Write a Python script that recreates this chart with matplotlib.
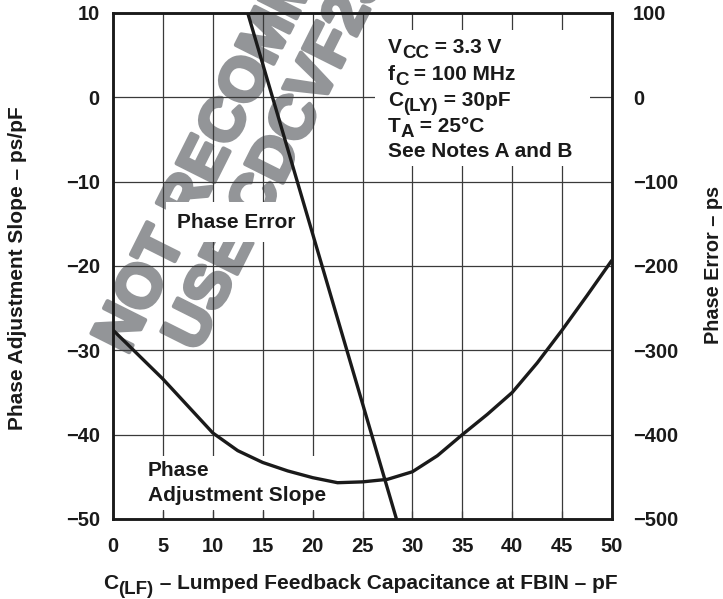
import matplotlib
matplotlib.use("Agg")
import matplotlib.pyplot as plt
import matplotlib.patheffects as pe
from matplotlib.patches import Rectangle

plt.rcParams["font.family"] = ["Liberation Sans", "DejaVu Sans"]
plt.rcParams["font.weight"] = "bold"

# Phase adjustment slope (left axis, ps/pF) vs lumped feedback capacitance (pF)
cap_pf = [0, 2.5, 5, 7.5, 10, 12.5, 15, 17.5, 20, 22.5, 25, 27.5, 30,
          32.5, 35, 37.5, 40, 42.5, 45, 47.5, 50]
slope_ps_pf = [-27.6, -30.5, -33.4, -36.6, -39.8, -41.9, -43.3, -44.3, -45.1,
               -45.7, -45.6, -45.3, -44.4, -42.5, -40.0, -37.6, -35.0, -31.5,
               -27.6, -23.5, -19.3]

# Phase error (right axis, ps) - straight line across the plot
err_cap_pf = [13.5, 28.4]
phase_err_ps = [100, -500]

x_ticks = list(range(0, 51, 5))
left_ticks = list(range(-50, 11, 10))
right_ticks = list(range(-500, 101, 100))

conditions = [
    [("V", False), ("CC", True), (" = 3.3 V", False)],
    [("f", False), ("C", True), (" = 100 MHz", False)],
    [("C", False), ("(LY)", True), (" = 30pF", False)],
    [("T", False), ("A", True), (" = 25\u00b0C", False)],
    [("See Notes A and B", False)],
]

INK = "#1a1a1a"
GRID = "#3a3a3a"
WATERMARK = "#939598"


def rich_text(ax, xy, parts, size, xycoords="data", ha="left", zorder=4):
    """Draw text with near full size subscripts, piece by piece."""
    fig = ax.figure
    renderer = fig.canvas.get_renderer()
    pieces = []
    for s, sub in parts:
        t = ax.annotate(s, xy, xycoords=xycoords, textcoords="offset points",
                        xytext=(0, 0), fontsize=size * (0.9 if sub else 1.0),
                        fontweight="bold", color=INK, ha="left", va="baseline",
                        zorder=zorder, annotation_clip=False)
        w = t.get_window_extent(renderer).width * 72 / fig.dpi
        pieces.append((t, w, -0.25 * size if sub else 0.0))
    total = sum(w for _, w, _ in pieces)
    x0 = -total / 2 if ha == "center" else 0.0
    for t, w, dy in pieces:
        t.xyann = (x0, dy)
        x0 += w
    return pieces


fig = plt.figure(figsize=(7.23, 5.99), dpi=100)
ax = fig.add_axes([0.1563, 0.1336, 0.6902, 0.8447])
ax2 = ax.twinx()

ax.set_xlim(0, 50)
ax.set_ylim(-50, 10)
ax2.set_ylim(-500, 100)

ax.set_xticks(x_ticks)
ax.set_yticks(left_ticks)
ax2.set_yticks(right_ticks)

ax.grid(True, color=GRID, lw=0.9)
ax.tick_params(axis="x", direction="in", length=6, width=0.9, color=GRID,
               labelsize=14.5, pad=13, labelcolor=INK)
ax.tick_params(axis="y", direction="in", length=0, labelsize=14.5, pad=9.5,
               labelcolor=INK)
ax2.tick_params(axis="y", direction="in", length=0, labelsize=14.5, pad=15,
                labelcolor=INK)

for a in (ax, ax2):
    for sp in a.spines.values():
        sp.set_linewidth(1.8)
        sp.set_color(INK)

# watermark (behind grid lines, spills outside the axes)
wm_kw = dict(transform=fig.transFigure, rotation=63.4, rotation_mode="anchor",
             ha="left", va="baseline", fontsize=44, fontweight="bold",
             color=WATERMARK, zorder=1, clip_on=False,
             path_effects=[pe.withStroke(linewidth=3, foreground=WATERMARK)])
ax.text(0.1760, 0.4060, "NOT RECOMMENDED FOR NEW DESIGNS", **wm_kw)
ax.text(0.2729, 0.4100, "USE CDCVF2505 AS A REPLACEMENT", **wm_kw)

# curves
ax.plot(cap_pf, slope_ps_pf, color=INK, lw=2.4, zorder=4,
        solid_joinstyle="round", solid_capstyle="butt")
ax2.plot(err_cap_pf, phase_err_ps, color=INK, lw=2.4, zorder=4,
         solid_capstyle="butt")

# curve labels
ax.text(12.3, -14.8, "Phase Error", fontsize=15, color=INK, ha="center",
        va="center", zorder=3,
        bbox=dict(boxstyle="square,pad=0.5", fc="white", ec="none"))
ax.text(3.5, -45.7, "Phase\nAdjustment Slope", fontsize=15, color=INK,
        ha="left", va="center", linespacing=1.4, zorder=3,
        bbox=dict(boxstyle="square,pad=0.25", fc="white", ec="none"))

# test conditions block
ax.add_patch(Rectangle((26.3, -8.2), 21.5, 16.2, fc="white", ec="none",
                       zorder=2.6))
cond_y = [5.29, 2.09, -1.0, -4.07, -7.04]
for parts, yy in zip(conditions, cond_y):
    rich_text(ax, (27.55, yy), parts, 15)

# axis titles
rich_text(ax, (0.4985, 0.0167),
          [("C", False), ("(LF)", True),
           (" \u2013 Lumped Feedback Capacitance at FBIN \u2013 pF", False)],
          15, xycoords="figure fraction", ha="center")
fig.text(0.024, 0.553, "Phase Adjustment Slope \u2013 ps/pF", rotation=90,
         ha="center", va="center", fontsize=15, color=INK)
fig.text(0.987, 0.5576, "Phase Error \u2013 ps", rotation=90,
         ha="center", va="center", fontsize=14.3, color=INK)

fig.savefig("out.png", dpi=100, facecolor="white")
